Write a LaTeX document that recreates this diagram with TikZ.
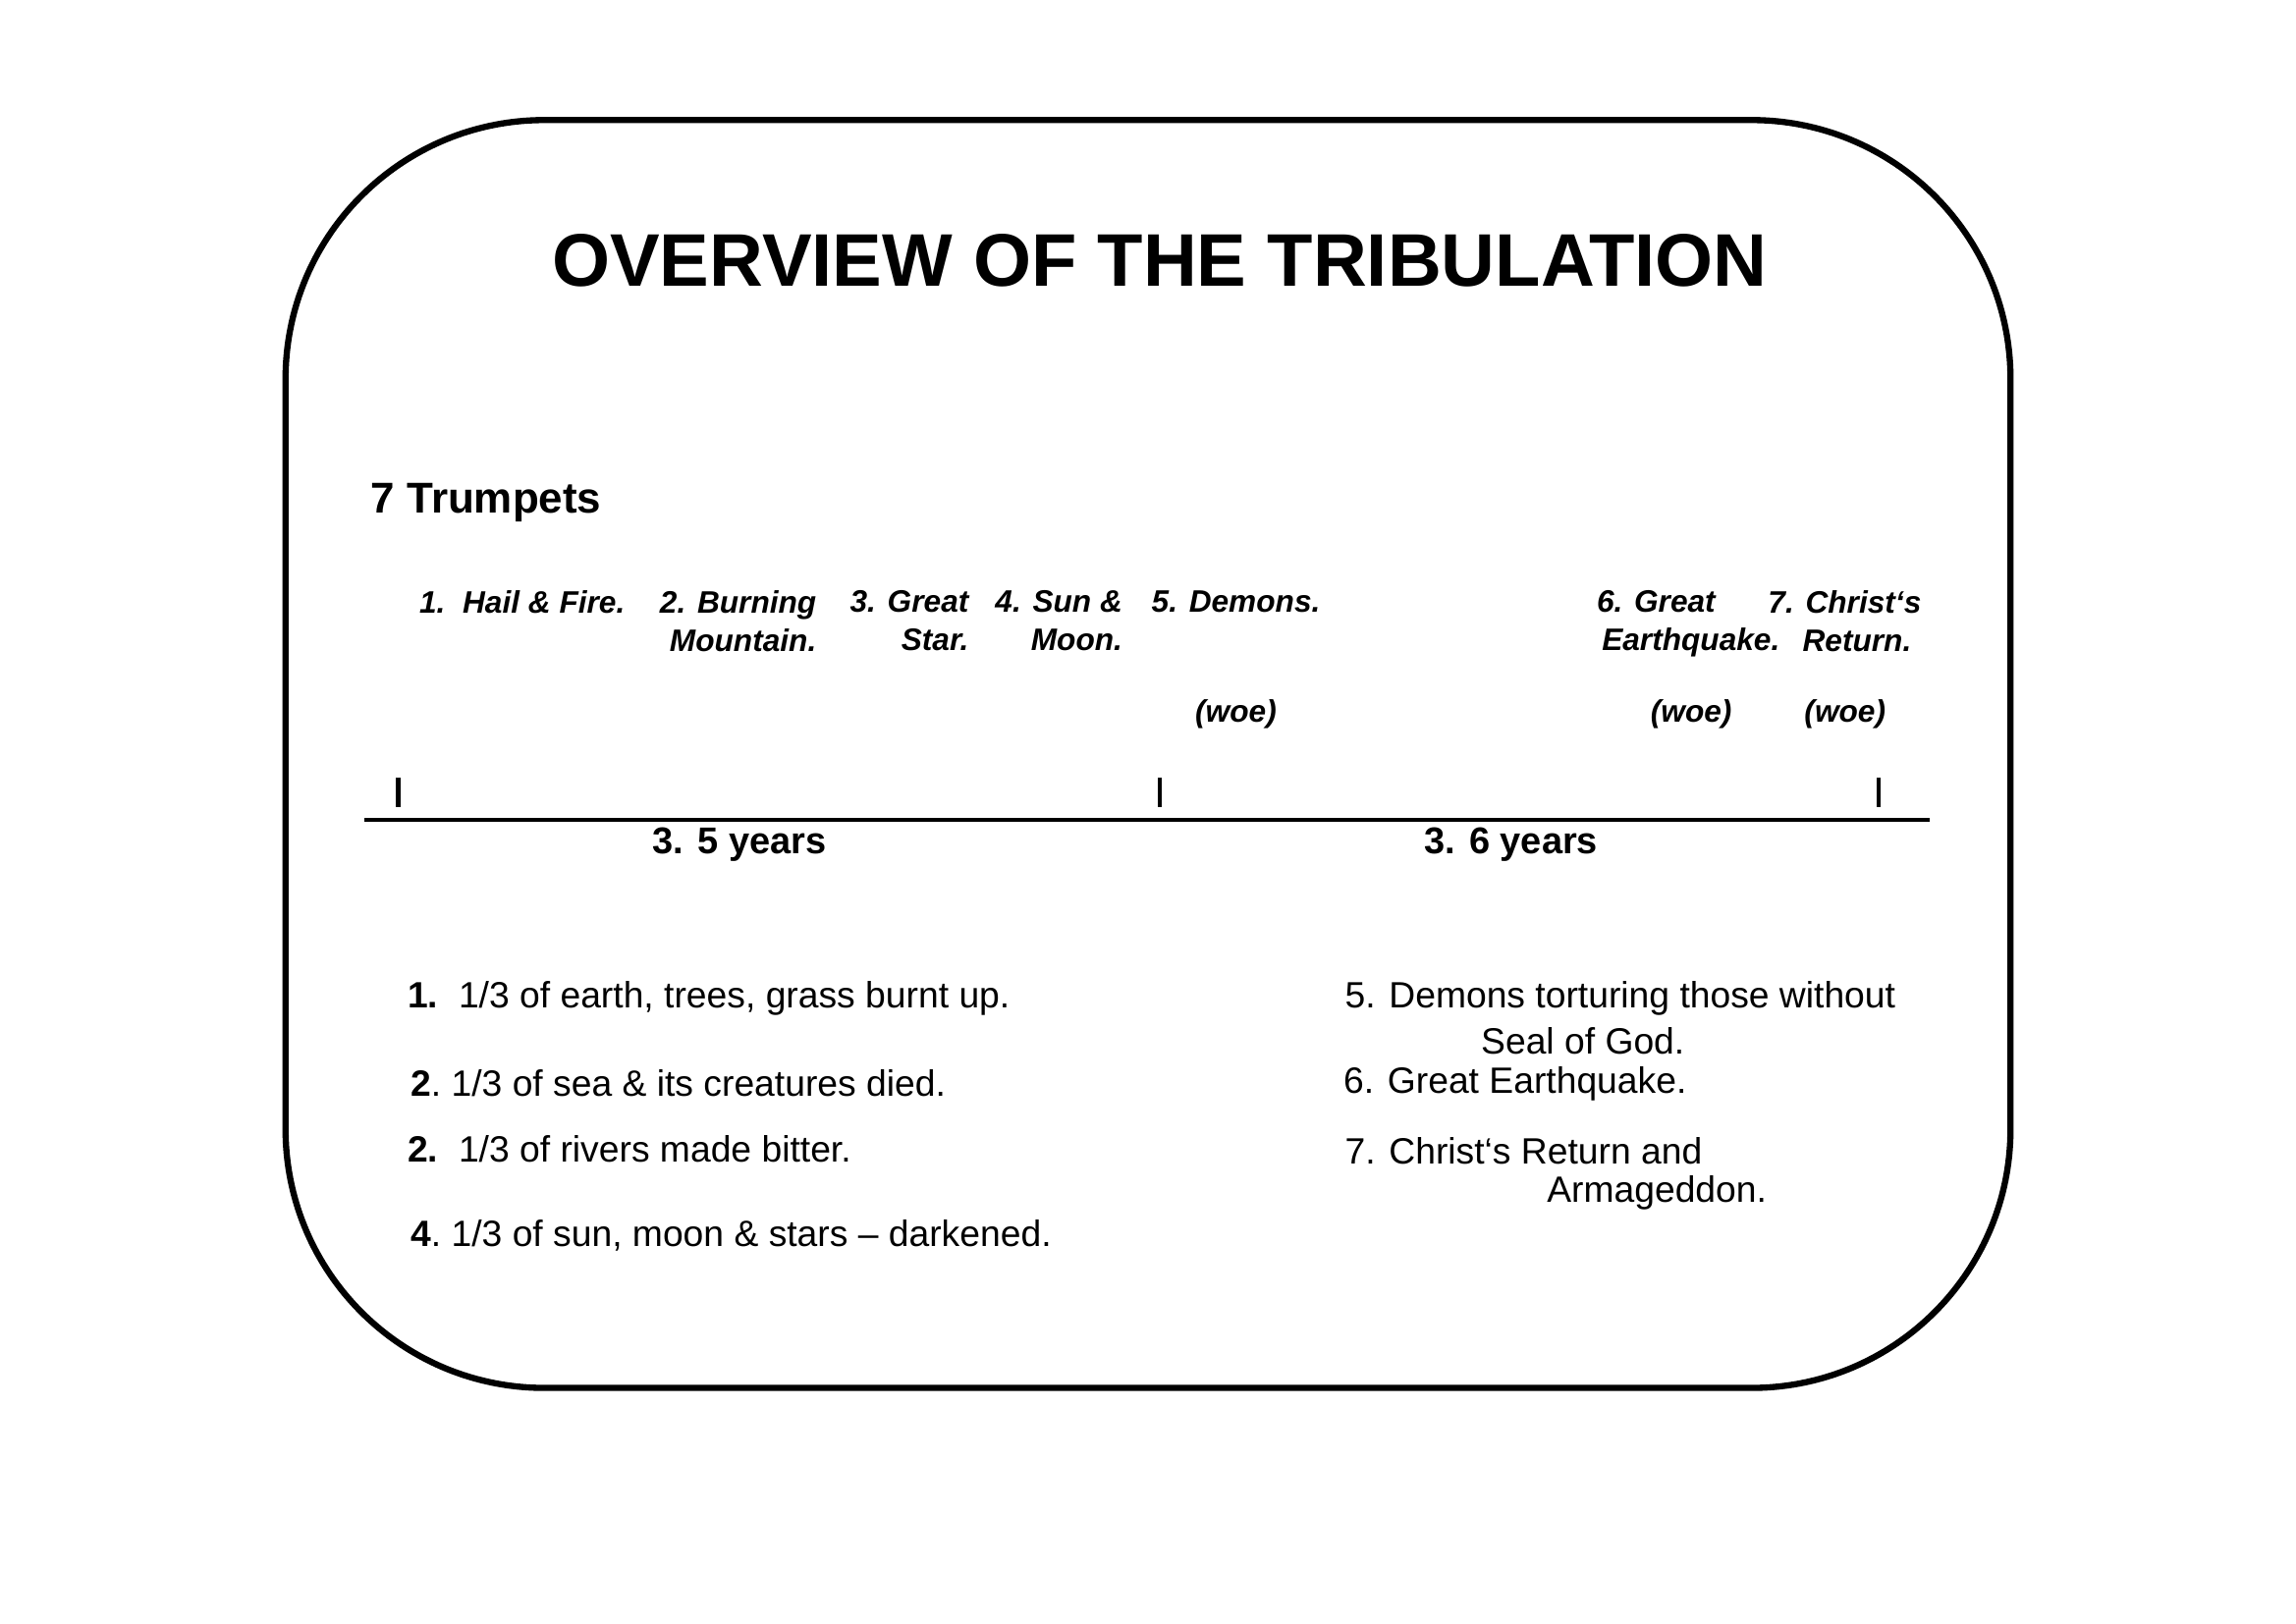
\documentclass[tikz,border=0pt]{standalone}
\usepackage{fontspec}
\setmainfont{Liberation Sans}
\usetikzlibrary{positioning}
\newcommand{\backtick}{\char"60\relax}
\tikzset{
	trumpet/.style={font=\fontsize{9}{11}\selectfont\bfseries\itshape, align=left, anchor=north west, inner sep=0pt},
	trumpetr/.style={trumpet, align=right, anchor=north east},
	effect/.style={font=\fontsize{10.6}{13}\selectfont, anchor=west, inner sep=0pt},
	tick/.style={line width=1.2pt}
}
\begin{document}
\begin{tikzpicture}[x=0.01491cm, y=-0.01491cm]
	\useasboundingbox (0,0) rectangle (1568,1109);
	\draw [line width=1.8pt, rounded corners=75pt] (195,82) rectangle (1373,948);
	
	\node [font=\fontsize{21.6}{24}\selectfont\bfseries] at (792,178) (title){OVERVIEW OF THE TRIBULATION};
	\node [font=\fontsize{12.5}{14}\selectfont\bfseries, anchor=west, inner sep=0pt] at (253,343) (trumpets){7 Trumpets};
	
	\node [trumpet] at (286,403) (t1){1.\ \ Hail \& Fire.};
	\node [trumpetr] at (558,403) (t2){2. Burning\\Mountain.};
	\node [trumpetr] at (662,403) (t3){3. Great\\Star.};
	\node [trumpetr] at (767,403) (t4){4. Sun \&\\Moon.};
	\node [trumpet] at (786,403) (t5){5. Demons.};
	\node [trumpet] at (1090,403) (t6){6. Great\\\hspace{1.5pt}Earthquake.};
	\node [trumpet] at (1207,403) (t7){7. Christ\backtick s\\\hspace{10pt}Return.};
	
	\node [trumpet, anchor=center] at (844,488) (w5){(woe)};
	\node [trumpet, anchor=center] at (1155,488) (w6){(woe)};
	\node [trumpet, anchor=center] at (1260,488) (w7){(woe)};
	
	\coordinate (start) at (249,560);
	\coordinate (stop) at (1318,560);
	\draw [line width=1.2pt] (start) -- (stop);
	\foreach \x/\n in {272/a,792/b,1283/c}{
		\coordinate (tick\n) at (\x,531);
		\draw [tick] (tick\n) -- ++(0,20);
	}
	
	\node [font=\fontsize{10.8}{13}\selectfont\bfseries] at (505,577) (half1){3. 5 years};
	\node [font=\fontsize{10.8}{13}\selectfont\bfseries] at (1032,577) (half2){3. 6 years};
	
	\node [effect] at (278,682) (e1){\textbf{1.}\ \ 1/3 of earth, trees, grass burnt up.};
	\node [effect] at (280,740) (e2){\textbf{2}.\ 1/3 of sea \& its creatures died.};
	\node [effect] at (278,785) (e3){\textbf{2.}\ \ 1/3 of rivers made bitter.};
	\node [effect] at (280,844) (e4){\textbf{4}.\ 1/3 of sun, moon \& stars -- darkened.};
	
	\node [effect] at (918,682) (e5){5. Demons torturing those without};
	\node [effect] at (1011,711) (e5b){Seal of God.};
	\node [effect] at (917,740) (e6){6. Great Earthquake.};
	\node [effect] at (918,786) (e7){7. Christ\backtick s Return and};
	\node [effect] at (1056,815) (e7b){Armageddon.};
\end{tikzpicture}
\end{document}
